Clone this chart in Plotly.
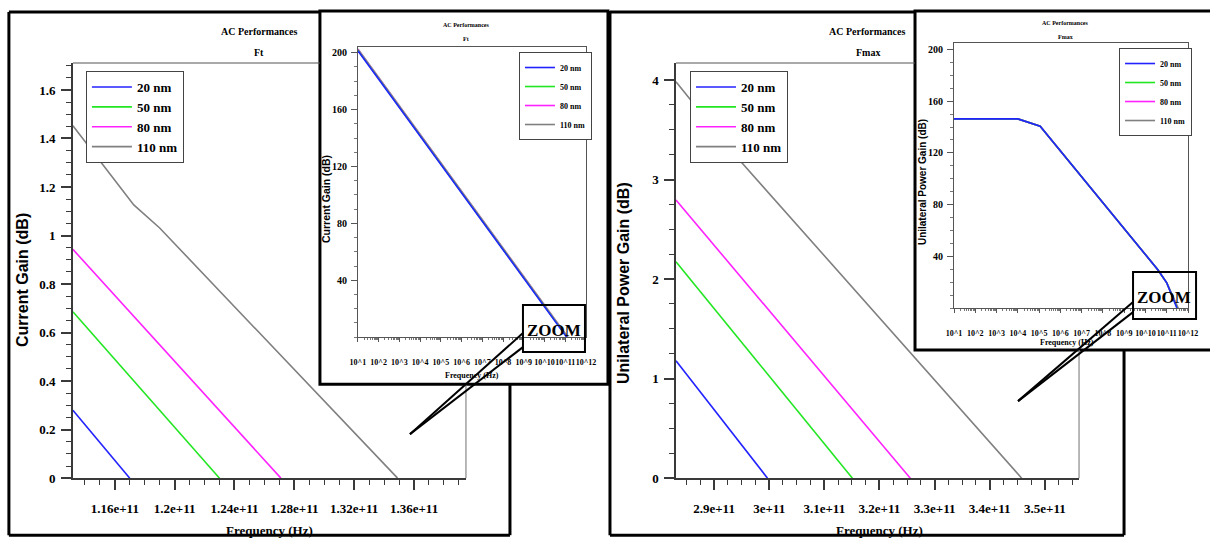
import plotly.graph_objects as go

W, H = 1210, 545

# ---------------- data ----------------
sizes = ["20 nm", "50 nm", "80 nm", "110 nm"]
colors = ["#2222ff", "#22e622", "#ff22ff", "#808080"]

# Ft, zoomed view (left main chart): frequency (Hz) vs current gain (dB)
ft_zoom_freq = [
    [1.132e11, 1.170e11],
    [1.132e11, 1.230e11],
    [1.132e11, 1.271e11],
    [1.132e11, 1.1647e11, 1.1727e11, 1.190e11, 1.349e11],
]
ft_zoom_gain = [
    [0.28, 0.0],
    [0.686, 0.0],
    [0.943, 0.0],
    [1.452, 1.188, 1.126, 1.031, 0.0],
]

# Ft, full view (left inset)
ft_full_freq = [
    [1e1, 1.170e11],
    [1e1, 1.230e11],
    [1e1, 1.271e11],
    [1e1, 1.349e11],
]
ft_full_gain = [
    [201.4, 0.0],
    [201.8, 0.0],
    [202.1, 0.0],
    [202.6, 0.0],
]

# Fmax, zoomed view (right main chart): frequency (Hz) vs unilateral power gain (dB)
fmax_zoom_freq = [
    [2.831e11, 2.997e11],
    [2.831e11, 3.151e11],
    [2.831e11, 3.256e11],
    [2.831e11, 2.938e11, 3.458e11],
]
fmax_zoom_gain = [
    [1.179, 0.0],
    [2.174, 0.0],
    [2.794, 0.0],
    [3.983, 3.246, 0.0],
]

# Fmax, full view (right inset)
fmax_full_freq = [
    [1e1, 1e4, 1.12e5, 3.8e10, 1e11, 2.997e11],
    [1e1, 1e4, 1.12e5, 3.8e10, 1e11, 3.151e11],
    [1e1, 1e4, 1.12e5, 3.8e10, 1e11, 3.256e11],
    [1e1, 1e4, 1.12e5, 3.8e10, 1e11, 3.458e11],
]
fmax_full_gain = [
    [146.3, 146.3, 140.6, 29.7, 19.5, 0.0],
    [146.3, 146.3, 140.6, 29.7, 19.5, 0.0],
    [146.3, 146.3, 140.6, 29.7, 19.5, 0.0],
    [146.3, 146.3, 140.6, 29.7, 19.5, 0.0],
]

# tick labels
ft_zoom_tickvals = [1.16e11, 1.20e11, 1.24e11, 1.28e11, 1.32e11, 1.36e11]
ft_zoom_ticktext = ["1.16e+11", "1.2e+11", "1.24e+11", "1.28e+11", "1.32e+11", "1.36e+11"]
fmax_zoom_tickvals = [2.9e11, 3.0e11, 3.1e11, 3.2e11, 3.3e11, 3.4e11, 3.5e11]
fmax_zoom_ticktext = ["2.9e+11", "3e+11", "3.1e+11", "3.2e+11", "3.3e+11", "3.4e+11", "3.5e+11"]
log_tickvals = [1e1, 1e2, 1e3, 1e4, 1e5, 1e6, 1e7, 1e8, 1e9, 1e10, 1e11, 1e12]
log_ticktext = ["10^1", "10^2", "10^3", "10^4", "10^5", "10^6", "10^7", "10^8",
                "10^9", "10^10", "10^11", "10^12"]
inset_gain_tickvals = [40, 80, 120, 160, 200]

# ---------------- helpers (target pixel -> paper) ----------------
# The photographed page is slightly scaled/offset; compensate so marks land
# on the intended pixel positions.
SX, OX = 0.985, 8.1
SY, OY = 0.985, 0.0


def px(x):
    return ((x - OX) / SX) / W


def py(y):
    return 1 - ((y - OY) / SY) / H


SERIF = "Liberation Serif, Times New Roman, serif"
SANS = "Liberation Sans, Arial, sans-serif"
AX = "#3a3a3a"

fig = go.Figure()

panels = [
    ("x", "y", "legend", ft_zoom_freq, ft_zoom_gain, False),
    ("x2", "y2", "legend2", ft_full_freq, ft_full_gain, True),
    ("x3", "y3", "legend3", fmax_zoom_freq, fmax_zoom_gain, False),
    ("x4", "y4", "legend4", fmax_full_freq, fmax_full_gain, True),
]
for xa, ya, lg, fx, gy, rev in panels:
    order = [3, 2, 1, 0] if rev else [0, 1, 2, 3]
    for i in order:
        fig.add_trace(go.Scatter(
            x=fx[i], y=gy[i], xaxis=xa, yaxis=ya, mode="lines",
            line=dict(color=colors[i], width=1.6),
            name=sizes[i], legend=lg, legendrank=i + 1,
            hoverinfo="x+y+name",
        ))

minor_log = [d * 10 ** k for k in range(1, 12) for d in range(2, 10)]


def main_x(domain, anchor, rng, tv, tt, mdt, t0):
    return dict(domain=domain, anchor=anchor, range=rng, tickmode="array",
                tickvals=tv, ticktext=tt, ticks="outside", ticklen=10, tickwidth=1.5,
                tickcolor=AX, showline=True, linecolor=AX, linewidth=1.5,
                showgrid=False, zeroline=False, ticklabelstandoff=7, tickangle=0,
                tickfont=dict(family=SERIF, size=13, color="black", weight="bold"),
                minor=dict(ticks="outside", ticklen=5, tickwidth=1, tickcolor=AX,
                           dtick=mdt, tick0=t0, showgrid=False))


def main_y(domain, anchor, rng, dt, mdt):
    return dict(domain=domain, anchor=anchor, range=rng, tickmode="linear", tick0=0,
                dtick=dt, ticks="outside", ticklen=10, tickwidth=1.5, tickcolor=AX,
                showline=True, linecolor=AX, linewidth=1.5, showgrid=False,
                zeroline=False, ticklabelstandoff=3,
                tickfont=dict(family=SERIF, size=13, color="black", weight="bold"),
                minor=dict(ticks="outside", ticklen=5, tickwidth=1, tickcolor=AX,
                           dtick=mdt, tick0=0, showgrid=False))


def inset_x(domain, anchor):
    return dict(domain=domain, anchor=anchor, type="log", range=[1, 12],
                tickmode="array", tickvals=log_tickvals, ticktext=log_ticktext,
                ticks="outside", ticklen=4, tickcolor="#555", showline=True,
                linecolor="#555", linewidth=1, mirror=True, showgrid=False,
                zeroline=False, ticklabelstandoff=13, tickangle=0,
                tickfont=dict(family=SERIF, size=8, color="black", weight="bold"),
                minor=dict(ticks="outside", ticklen=2, tickcolor="#777",
                           tickmode="array", tickvals=minor_log, showgrid=False))


def inset_y(domain, anchor, rng):
    return dict(domain=domain, anchor=anchor, range=rng, tickmode="array",
                tickvals=inset_gain_tickvals, ticks="outside", ticklen=6,
                tickcolor="#555", showline=True, linecolor="#555", linewidth=1,
                mirror=True, showgrid=False, zeroline=False, ticklabelstandoff=2,
                tickfont=dict(family=SERIF, size=10, color="black", weight="bold"),
                minor=dict(ticks="outside", ticklen=3, tickcolor="#777", dtick=10,
                           tick0=0, showgrid=False))


def legend_box(x, y, size, iw):
    return dict(x=px(x), y=py(y), xanchor="left", yanchor="top",
                bgcolor="white", bordercolor="#444", borderwidth=1,
                font=dict(family=SERIF, size=size, color="black", weight="bold"),
                itemwidth=iw, tracegroupgap=0)


# frame shapes
shapes = []


def line(x0, y0, x1, y1, color="black", width=3, layer="above"):
    shapes.append(dict(type="line", xref="paper", yref="paper", x0=px(x0), y0=py(y0),
                       x1=px(x1), y1=py(y1), line=dict(color=color, width=width),
                       layer=layer))


def rect(x0, y0, x1, y1, color="black", width=3, fill="rgba(0,0,0,0)", layer="above"):
    shapes.append(dict(type="rect", xref="paper", yref="paper", x0=px(x0), y0=py(y0),
                       x1=px(x1), y1=py(y1), line=dict(color=color, width=width),
                       fillcolor=fill, layer=layer))


BOTTOM = 535  # lowest frame line that still fits on the page

# inset white panels (under everything)
rect(320, 11, 608, 384, fill="white", layer="below")
rect(915, 11, 1225, 350, fill="white", layer="below")
# outer panel borders
line(9, 12, 9, BOTTOM)
line(9, 12, 320, 12)
line(9, BOTTOM, 510, BOTTOM)
line(510, 384, 510, BOTTOM)
line(610, 11, 610, BOTTOM)
line(610, 12, 915, 12)
line(610, BOTTOM, 1124, BOTTOM)
line(1124, 350, 1124, BOTTOM)
# visible parts of the main plot boxes
line(73, 63, 320, 63, color="#555", width=1.2, layer="below")
line(466, 384, 466, 478, color="#888", width=1.2, layer="below")
line(676, 63, 915, 63, color="#555", width=1.2, layer="below")
line(1079, 350, 1079, 478, color="#888", width=1.2, layer="below")
# ZOOM call-outs
rect(523, 305, 585, 352, width=2)
line(523, 333, 410, 434, width=2)
line(523, 347, 410, 434, width=2)
rect(1133, 272, 1196, 319, width=2)
line(1133, 302, 1018, 401, width=2)
line(1133, 312, 1018, 401, width=2)

annotations = []


def text(t, x, y, size, family=SERIF, angle=0):
    annotations.append(dict(text=t, x=px(x), y=py(y), xref="paper", yref="paper",
                            showarrow=False, xanchor="center", yanchor="middle",
                            textangle=angle,
                            font=dict(family=family, size=size, color="black",
                                      weight="bold")))


text("AC Performances", 259, 31, 10)
text("Ft", 259, 52, 10)
text("AC Performances", 867, 31, 10)
text("Fmax", 868, 52, 10)
text("AC Performances", 466, 25, 6)
text("Ft", 466, 39, 6)
text("AC Performances", 1065, 23, 6)
text("Fmax", 1065, 37, 6)
text("Frequency (Hz)", 270, 530, 13)
text("Frequency (Hz)", 879, 530, 13)
text("Frequency (Hz)", 472, 375, 8)
text("Frequency (Hz)", 1067, 342, 8)
text("Current Gain (dB)", 22, 280, 16, SANS, -90)
text("Unilateral Power Gain (dB)", 623, 283, 16, SANS, -90)
text("Current Gain (dB)", 326, 199, 10.5, SANS, -90)
text("Unilateral Power Gain (dB)", 922, 182, 10, SANS, -90)
text("ZOOM", 554, 330, 17)
text("ZOOM", 1164, 297, 17)

fig.update_layout(
    width=W, height=H, autosize=False,
    margin=dict(l=0, r=0, t=0, b=0, pad=0),
    paper_bgcolor="white", plot_bgcolor="rgba(0,0,0,0)",
    showlegend=True,
    xaxis=main_x([px(73), px(466)], "y", [1.132e11, 1.3947e11],
                 ft_zoom_tickvals, ft_zoom_ticktext, 1e9, 1.16e11),
    yaxis=main_y([py(478), py(63)], "x", [0, 1.711], 0.2, 0.05),
    xaxis2=inset_x([px(358), px(586)], "y2"),
    yaxis2=inset_y([py(337), py(47)], "x2", [0, 204]),
    xaxis3=main_x([px(676), px(1079)], "y3", [2.831e11, 3.562e11],
                  fmax_zoom_tickvals, fmax_zoom_ticktext, 2.5e9, 2.9e11),
    yaxis3=main_y([py(478), py(63)], "x3", [0, 4.17], 1, 0.25),
    xaxis4=inset_x([px(954), px(1188)], "y4"),
    yaxis4=inset_y([py(308), py(43)], "x4", [0, 205]),
    legend=legend_box(86, 71, 13, 40),
    legend2=legend_box(519, 52, 8, 30),
    legend3=legend_box(690, 71, 13, 40),
    legend4=legend_box(1119, 48, 8, 30),
    shapes=shapes,
    annotations=annotations,
)

pin_script = (
    "document.documentElement.style.margin='0';"
    "document.body.style.margin='0';"
    "document.body.style.overflow='hidden';"
    "var gd=document.getElementById('{plot_id}');"
    "gd.style.position='fixed';gd.style.left='0px';gd.style.top='0px';"
)

fig.write_html("out.html", config={"displayModeBar": False}, post_script=pin_script)
